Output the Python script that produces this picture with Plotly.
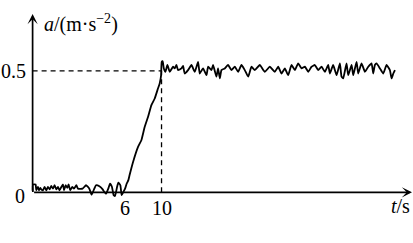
import plotly.graph_objects as go

# ---- data ----
t_vals = [
    -3.97, -3.96, -3.67, -3.60, -3.42, -3.31, -3.17, -3.06, -2.88, -2.70, -2.51, -2.33,
    -2.15, -1.97, -1.79, -1.61, -1.43, -1.25, -1.07, -0.88, -0.70, -0.59, -0.41, -0.23,
    -0.09, 0.09, 0.31, 0.49, 0.75, 0.93, 1.43, 1.80, 2.16, 2.41, 2.70, 2.88, 3.25, 3.61,
    3.79, 3.97, 4.22, 4.41, 4.62, 4.80, 4.95, 5.17, 5.31, 5.53, 5.67, 5.85, 6.04, 6.22,
    6.40, 6.54, 6.91, 7.45, 7.81, 8.17, 8.54, 8.90, 9.26, 9.62, 9.80, 9.95, 10.02, 10.12,
    10.25, 10.42, 10.64, 10.89, 11.25, 11.43, 11.62, 11.80, 12.16, 12.34, 12.52, 12.88,
    13.25, 13.61, 13.97, 14.15, 14.51, 14.88, 15.06, 15.42, 15.60, 15.96, 16.14, 16.33,
    16.51, 16.87, 17.23, 17.59, 17.96, 18.32, 18.68, 19.04, 19.41, 19.77, 20.13, 20.67,
    21.22, 21.76, 22.30, 22.67, 23.03, 23.39, 23.75, 24.12, 24.48, 24.84, 25.20, 25.57,
    25.93, 26.29, 26.65, 27.01, 27.38, 27.74, 28.10, 28.28, 28.64, 29.01, 29.37, 29.55,
    29.73, 30.09, 30.27, 30.64, 30.82, 31.18, 31.36, 31.72, 32.09, 32.45, 32.81, 32.99,
    33.17, 33.35, 33.72, 34.08, 34.44, 34.80, 34.98, 35.17, 35.35,
]
a_vals = [
    0.001, 0.032, 0.032, 0.008, 0.022, 0.008, 0.018, 0.012, 0.008, 0.022, 0.008, 0.022,
    0.012, 0.026, 0.015, 0.029, 0.012, 0.022, 0.008, 0.022, 0.032, 0.008, 0.029, 0.018,
    0.032, 0.008, 0.022, 0.015, 0.029, 0.015, 0.015, 0.029, 0.015, -0.010, 0.015, 0.029,
    0.025, 0.012, 0.001, -0.006, 0.015, 0.036, 0.022, -0.012, -0.015, 0.022, 0.040, 0.029,
    -0.012, 0.001, 0.015, 0.036, 0.050, 0.072, 0.125, 0.187, 0.214, 0.269, 0.311, 0.359,
    0.386, 0.428, 0.448, 0.480, 0.537, 0.540, 0.510, 0.496, 0.524, 0.496, 0.517, 0.510,
    0.524, 0.503, 0.510, 0.520, 0.489, 0.503, 0.524, 0.496, 0.537, 0.489, 0.510, 0.482,
    0.517, 0.503, 0.524, 0.476, 0.510, 0.469, 0.503, 0.510, 0.524, 0.503, 0.517, 0.496,
    0.524, 0.503, 0.476, 0.517, 0.503, 0.524, 0.496, 0.517, 0.496, 0.517, 0.489, 0.510,
    0.482, 0.524, 0.503, 0.531, 0.510, 0.517, 0.496, 0.517, 0.524, 0.503, 0.517, 0.496,
    0.524, 0.489, 0.524, 0.482, 0.531, 0.476, 0.469, 0.531, 0.482, 0.524, 0.482, 0.537,
    0.489, 0.531, 0.496, 0.517, 0.531, 0.489, 0.524, 0.531, 0.510, 0.489, 0.524, 0.503,
    0.469, 0.489, 0.503,
]
x_tick_vals = [6, 10]
x_tick_text = ["6", "10"]
y_tick_vals = [0, 0.5]
y_tick_text = ["0", "0.5"]
ref_t = 10
ref_a = 0.5
x_label = "<i>t</i>/s"
y_label = "<i>a</i>/(m·s<sup>−2</sup>)"

# ---- layout constants ----
X_MIN, X_AXIS, X_MAX = -4.5, -4.0, 37.2
Y_MIN, Y_MAX = -0.04, 0.734
FONT = "Liberation Serif"
AXW = 1.7

fig = go.Figure()
fig.add_trace(go.Scatter(
    x=t_vals, y=a_vals, mode="lines",
    line=dict(color="black", width=1.8, shape="spline", smoothing=0.4),
    hoverinfo="skip", showlegend=False, cliponaxis=False,
))

shapes = [
    dict(type="line", xref="x", yref="y", x0=X_AXIS, x1=ref_t, y0=ref_a, y1=ref_a,
         line=dict(color="black", width=1.3, dash="5px,4px")),
    dict(type="line", xref="x", yref="y", x0=ref_t, x1=ref_t, y0=0, y1=ref_a,
         line=dict(color="black", width=1.3, dash="5px,4px")),
]

ann = []
# axis lines with arrowheads
ann.append(dict(x=X_MAX, y=0, ax=X_AXIS, ay=0, xref="x", yref="y", axref="x", ayref="y",
                text="", showarrow=True, arrowhead=3, arrowsize=1.0, arrowwidth=AXW,
                arrowcolor="black", standoff=0, startstandoff=0))
ann.append(dict(x=X_AXIS, y=Y_MAX, ax=X_AXIS, ay=0, xref="x", yref="y", axref="x", ayref="y",
                text="", showarrow=True, arrowhead=3, arrowsize=1.0, arrowwidth=AXW,
                arrowcolor="black", standoff=0, startstandoff=0))
# x tick labels
for v, s in zip(x_tick_vals, x_tick_text):
    ann.append(dict(x=v, y=0, xref="x", yref="y", text=s, showarrow=False,
                    xanchor="center", yanchor="middle", yshift=-16,
                    font=dict(family=FONT, size=20, color="black")))
# y tick labels
for v, s in zip(y_tick_vals, y_tick_text):
    ann.append(dict(x=X_AXIS, y=v, xref="x", yref="y", text=s, showarrow=False,
                    xanchor="right", yanchor="middle",
                    xshift=-5 if v else -6, yshift=0 if v else -4,
                    font=dict(family=FONT, size=20, color="black")))
# axis titles
ann.append(dict(x=X_MAX, y=0, xref="x", yref="y", text=x_label, showarrow=False,
                xanchor="right", yanchor="middle", yshift=-14,
                font=dict(family=FONT, size=20, color="black")))
ann.append(dict(x=X_AXIS, y=Y_MAX, xref="x", yref="y", text=y_label, showarrow=False,
                xanchor="left", yanchor="middle", xshift=9, yshift=-9,
                font=dict(family=FONT, size=20, color="black")))

fig.update_layout(
    width=413, height=243,
    margin=dict(l=28, r=1, t=14, b=41, pad=0),
    paper_bgcolor="white", plot_bgcolor="white",
    xaxis=dict(range=[X_MIN, X_MAX], visible=False, fixedrange=True),
    yaxis=dict(range=[Y_MIN, Y_MAX], visible=False, fixedrange=True),
    shapes=shapes, annotations=ann, showlegend=False,
)
fig.write_html("out.html", config={"displayModeBar": False})
